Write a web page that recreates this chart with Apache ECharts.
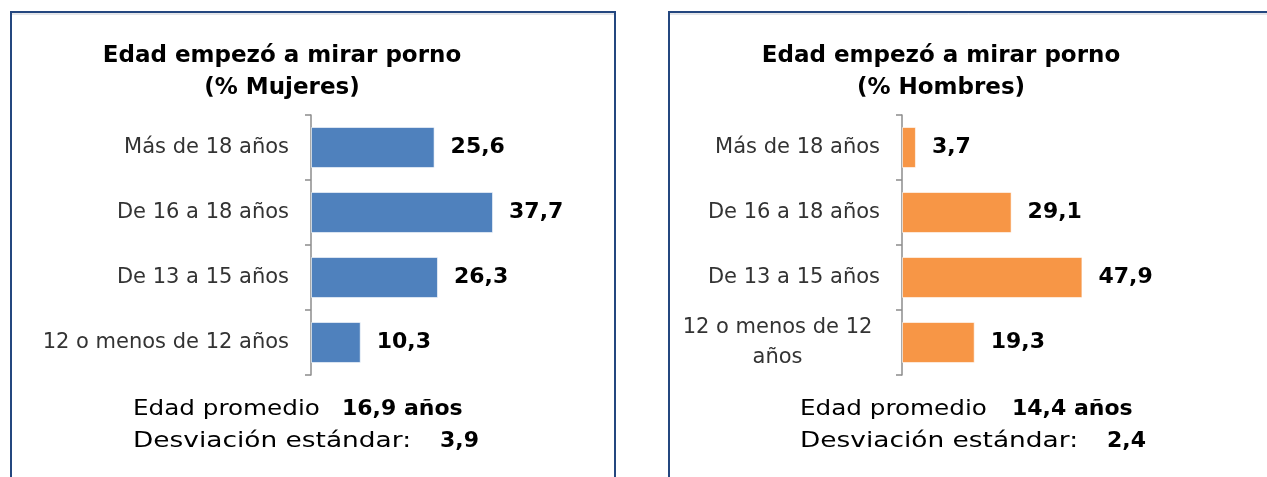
<!DOCTYPE html>
<html>
<head>
<meta charset="utf-8">
<script src="https://cdn.jsdelivr.net/npm/echarts@6/dist/echarts.min.js"></script>
<style>
  html, body { margin: 0; padding: 0; background: #fff; }
  #chart { width: 1267px; height: 477px; }
</style>
</head>
<body>
<div id="chart"></div>
<script>
// datos
var categoriasMujeres = ['Más de 18 años', 'De 16 a 18 años', 'De 13 a 15 años', '12 o menos de 12 años'];
var categoriasHombres = ['Más de 18 años', 'De 16 a 18 años', 'De 13 a 15 años', '12 o menos de 12\naños'];
var valoresMujeres = [25.6, 37.7, 26.3, 10.3];
var valoresHombres = [3.7, 29.1, 47.9, 19.3];
var promedioMujeres = '16,9 años';
var desviacionMujeres = '3,9';
var promedioHombres = '14,4 años';
var desviacionHombres = '2,4';

var fuente = 'DejaVu Sans';
var chart = echarts.init(document.getElementById('chart'));

function coma(v) { return String(v).replace('.', ','); }

function ejeCat(idx, cats) {
  return {
    type: 'category', gridIndex: idx, data: cats, inverse: true,
    axisLine: { show: true, lineStyle: { color: '#8c8c8c', width: 1.5 } },
    axisTick: { show: true, alignWithLabel: false, length: 6, lineStyle: { color: '#8c8c8c', width: 1.5 } },
    axisLabel: {
      margin: 22, color: '#333', fontFamily: fuente, fontSize: 21,
      formatter: function (v) {
        if (v.indexOf('\n') >= 0) {
          var p = v.split('\n');
          return '{c|' + p[0] + '}\n{c|' + p[1] + '}';
        }
        return v;
      },
      rich: { c: { width: 205, align: 'center', fontSize: 21, fontFamily: fuente, color: '#333', lineHeight: 30 } }
    }
  };
}

function serie(idx, datos, color) {
  return {
    type: 'bar', xAxisIndex: idx, yAxisIndex: idx, data: datos,
    barCategoryGap: '37%',
    itemStyle: { color: color, borderColor: 'rgba(255,255,255,0.6)', borderWidth: 1 },
    label: {
      show: true, position: 'right', distance: 16,
      fontFamily: fuente, fontWeight: 'bold', fontSize: 22, color: '#000',
      formatter: function (p) { return coma(p.value); }
    }
  };
}

function texto(x, y, t, size, bold, align, sx) {
  return {
    type: 'text', x: x, y: y, scaleX: sx || 1, scaleY: 1,
    style: {
      text: t, fontFamily: fuente, fontSize: size, fontWeight: bold ? 'bold' : 'normal',
      fill: '#000', textAlign: align || 'left', verticalAlign: 'middle'
    }
  };
}

function textos(x0, cx, sexo, prom, desv, xProm, xDesv) {
  return [
    texto(cx, 56, 'Edad empezó a mirar porno', 23, true, 'center'),
    texto(cx, 88, '(% ' + sexo + ')', 23, true, 'center'),
    texto(x0, 409, 'Edad promedio', 22, false, 'left', 1.12),
    texto(xProm, 409, prom, 22, true, 'left'),
    texto(x0, 441, 'Desviación estándar:', 22, false, 'left', 1.2),
    texto(xDesv, 441, desv, 22, true, 'left')
  ];
}

var graficos = [
  { type: 'rect', shape: { x: 11, y: 12, width: 604, height: 480 }, style: { fill: 'none', stroke: '#24477f', lineWidth: 2 } },
  { type: 'rect', shape: { x: 669, y: 12, width: 620, height: 480 }, style: { fill: 'none', stroke: '#24477f', lineWidth: 2 } },
  { type: 'line', shape: { x1: 12, y1: 14, x2: 614, y2: 14 }, style: { stroke: '#c8ccd4', lineWidth: 1 } },
  { type: 'line', shape: { x1: 670, y1: 14, x2: 1267, y2: 14 }, style: { stroke: '#c8ccd4', lineWidth: 1 } }
].concat(
  textos(133, 282, 'Mujeres', promedioMujeres, desviacionMujeres, 342, 440),
  textos(800, 941, 'Hombres', promedioHombres, desviacionHombres, 1012, 1107)
);

chart.setOption({
  animation: false,
  grid: [
    { left: 311, top: 115, width: 239, height: 260 },
    { left: 902, top: 115, width: 226, height: 260 }
  ],
  xAxis: [
    { type: 'value', gridIndex: 0, min: 0, max: 49.5, show: false, splitLine: { show: false } },
    { type: 'value', gridIndex: 1, min: 0, max: 60, show: false, splitLine: { show: false } }
  ],
  yAxis: [ejeCat(0, categoriasMujeres), ejeCat(1, categoriasHombres)],
  series: [serie(0, valoresMujeres, '#4f81bd'), serie(1, valoresHombres, '#f79646')],
  graphic: graficos
});
</script>
</body>
</html>
